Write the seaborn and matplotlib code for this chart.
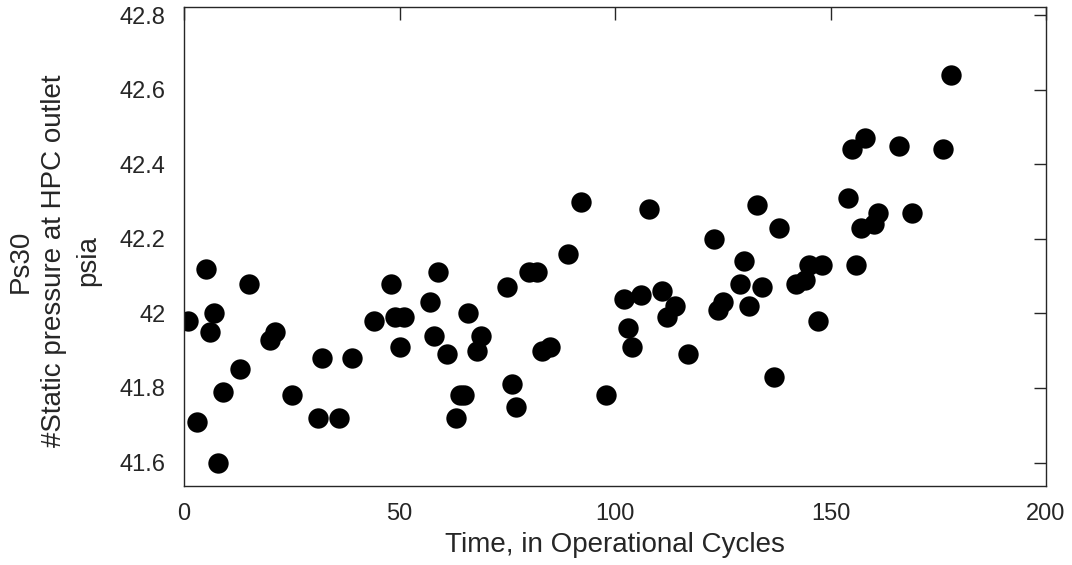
import matplotlib
matplotlib.use("Agg")
import matplotlib.pyplot as plt
from matplotlib.ticker import FuncFormatter
import seaborn as sns
import pandas as pd

# Operational cycle at which each Ps30 reading was taken
cycles = [1, 3, 5, 6, 7, 8, 9, 13, 15, 20, 21, 25, 31, 32, 36, 39, 44, 48, 49, 50,
          51, 57, 58, 59, 61, 63, 64, 65, 66, 68, 69, 75, 76, 77, 80, 82, 83, 85, 89, 92,
          98, 102, 103, 104, 106, 108, 111, 112, 114, 117, 123, 124, 125, 129, 130, 131,
          133, 134, 137, 138, 142, 144, 145, 147, 148, 154, 155, 156, 157, 158, 160, 161,
          166, 169, 176, 178]

# Static pressure at HPC outlet (psia)
ps30 = [41.98, 41.71, 42.12, 41.95, 42.00, 41.60, 41.79, 41.85, 42.08, 41.93, 41.95,
        41.78, 41.72, 41.88, 41.72, 41.88, 41.98, 42.08, 41.99, 41.91, 41.99, 42.03,
        41.94, 42.11, 41.89, 41.72, 41.78, 41.78, 42.00, 41.90, 41.94, 42.07, 41.81,
        41.75, 42.11, 42.11, 41.90, 41.91, 42.16, 42.30, 41.78, 42.04, 41.96, 41.91,
        42.05, 42.28, 42.06, 41.99, 42.02, 41.89, 42.20, 42.01, 42.03, 42.08, 42.14,
        42.02, 42.29, 42.07, 41.83, 42.23, 42.08, 42.09, 42.13, 41.98, 42.13, 42.31,
        42.44, 42.13, 42.23, 42.47, 42.24, 42.27, 42.45, 42.27, 42.44, 42.64]

x_ticks = [0, 50, 100, 150, 200]
y_ticks = [41.6, 41.8, 42.0, 42.2, 42.4, 42.6, 42.8]

df = pd.DataFrame({"cycle": cycles, "ps30": ps30})

sns.set_style("white")
plt.rcParams["font.family"] = ["Liberation Sans", "DejaVu Sans"]

fig = plt.figure(figsize=(10.72, 5.65), dpi=100)
ax = fig.add_axes([184 / 1072, 1 - 486 / 565, (1046 - 184) / 1072, (486 - 7) / 565])

sns.scatterplot(data=df, x="cycle", y="ps30", ax=ax, color="black",
                s=215, linewidth=0, legend=False)

ax.set_xlim(0, 200)
ax.set_ylim(41.537, 42.822)
ax.set_xticks(x_ticks)
ax.set_yticks(y_ticks)
ax.yaxis.set_major_formatter(FuncFormatter(lambda v, p: f"{v:g}"))

edge = "#262626"
for s in ax.spines.values():
    s.set_visible(True)
    s.set_color(edge)
    s.set_linewidth(1.0)

ax.tick_params(axis="both", which="major", direction="in", length=9, width=1.0,
               color=edge, labelsize=17, labelcolor="#262626",
               top=True, right=True)
ax.tick_params(axis="y", pad=13.5)
ax.tick_params(axis="x", pad=12)

ax.set_xlabel("Time, in Operational Cycles", fontsize=20, color="#262626")
ax.set_ylabel("Ps30\n#Static pressure at HPC outlet\npsia", fontsize=20,
              color="#262626", linespacing=1.38, multialignment="center")
ax.xaxis.set_label_coords(0.5, -(532 - 486) / 479)
ax.yaxis.set_label_coords(-(184 - 101) / 862, 0.47)

fig.savefig("out.png", dpi=100, facecolor="white")
